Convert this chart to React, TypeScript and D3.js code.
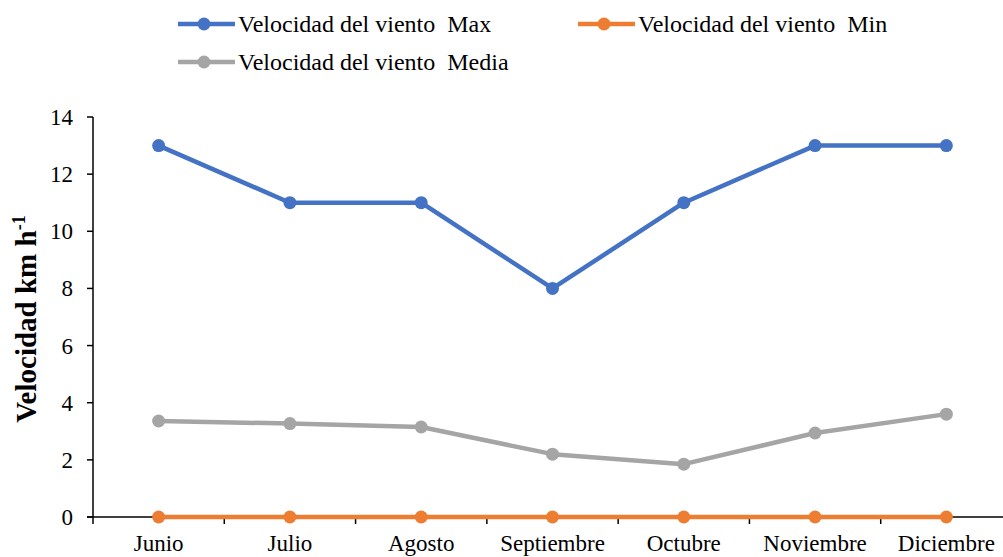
import React from "react";
import * as d3 from "d3";

const categories = ["Junio", "Julio", "Agosto", "Septiembre", "Octubre", "Noviembre", "Diciembre"];
const maxValues = [13, 11, 11, 8, 11, 13, 13];
const minValues = [0, 0, 0, 0, 0, 0, 0];
const mediaValues = [3.36, 3.27, 3.15, 2.2, 1.85, 2.94, 3.6];
const yTicks = [0, 2, 4, 6, 8, 10, 12, 14];
const seriesNames = ["Velocidad del viento  Max", "Velocidad del viento  Min", "Velocidad del viento  Media"];
const colors = ["#4472C4", "#ED7D31", "#A5A5A5"];

const W = 1003;
const H = 557;
const left = 93;
const top = 117;
const bottom = 517;
const right = 1012;
const font = "Liberation Serif, DejaVu Serif, serif";

export default function App() {
  const x = d3.scaleBand<string>().domain(categories).range([left, right]);
  const y = d3.scaleLinear().domain([0, 14]).range([bottom, top]);
  const cx = (c: string) => (x(c) as number) + x.bandwidth() / 2;
  const line = d3
    .line<number>()
    .x((_, i) => cx(categories[i]))
    .y((d) => y(d));

  const series = [
    { name: seriesNames[0], values: maxValues, color: colors[0] },
    { name: seriesNames[1], values: minValues, color: colors[1] },
    { name: seriesNames[2], values: mediaValues, color: colors[2] },
  ];
  const drawOrder = [series[0], series[2], series[1]];

  const legendPos = [
    { x: 178, y: 24 },
    { x: 578, y: 24 },
    { x: 178, y: 62 },
  ];

  const tickXs = categories.map((c) => x(c) as number).concat([right]);

  return (
    <svg
      width={W}
      height={H}
      style={{ position: "absolute", left: 0, top: 0, background: "#fff", fontFamily: font }}
    >
      {/* y axis */}
      <line x1={left} x2={left} y1={top} y2={bottom} stroke="#000" strokeWidth={1.5} />
      {yTicks.map((t) => (
        <g key={t}>
          <line x1={left - 6} x2={left} y1={y(t)} y2={y(t)} stroke="#000" strokeWidth={1.5} />
          <text x={left - 20} y={y(t)} dy="0.35em" textAnchor="end" fontSize={23} fill="#000">
            {t}
          </text>
        </g>
      ))}
      {/* x axis */}
      <line x1={left - 6} x2={right} y1={bottom} y2={bottom} stroke="#000" strokeWidth={1.5} />
      {tickXs.map((tx, i) => (
        <line key={i} x1={tx} x2={tx} y1={bottom} y2={bottom + 7} stroke="#000" strokeWidth={1.5} />
      ))}
      {categories.map((c) => (
        <text key={c} x={cx(c)} y={551} textAnchor="middle" fontSize={23} fill="#000">
          {c}
        </text>
      ))}
      {/* y label */}
      <text
        transform={`translate(36, 319) rotate(-90)`}
        textAnchor="middle"
        fontSize={29}
        fontWeight="bold"
        fill="#000"
      >
        Velocidad km h<tspan dy={-11} fontSize={18}>-1</tspan>
      </text>
      {/* series */}
      {drawOrder.map((s) => (
        <g key={s.name}>
          <path d={line(s.values) || ""} fill="none" stroke={s.color} strokeWidth={4.5} strokeLinejoin="round" />
          {s.values.map((v, i) => (
            <circle key={i} cx={cx(categories[i])} cy={y(v)} r={6.5} fill={s.color} />
          ))}
        </g>
      ))}
      {/* legend */}
      {series.map((s, i) => (
        <g key={s.name} transform={`translate(${legendPos[i].x}, ${legendPos[i].y})`}>
          <line x1={0} x2={57} y1={0} y2={0} stroke={s.color} strokeWidth={4.5} />
          <circle cx={26} cy={0} r={6.5} fill={s.color} />
          <text x={60} y={0} dy="0.33em" fontSize={24} fill="#000" style={{ whiteSpace: "pre" }}>
            {s.name}
          </text>
        </g>
      ))}
    </svg>
  );
}
